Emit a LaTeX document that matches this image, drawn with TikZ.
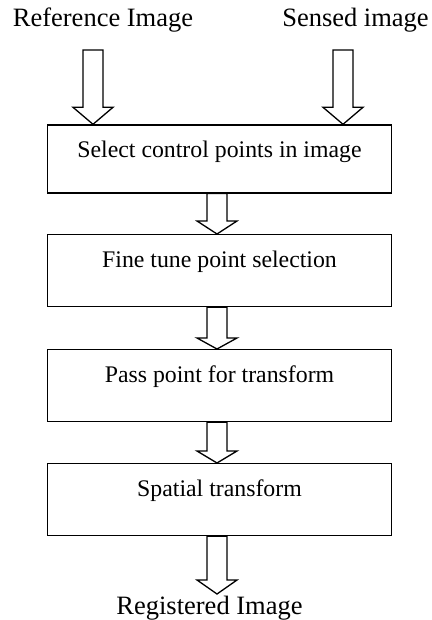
\documentclass[tikz,border=0pt]{standalone}
\usepackage{fontspec}
\setmainfont{Liberation Serif}
\usetikzlibrary{calc}
\begin{document}
\begin{tikzpicture}[x=1pt,y=1pt,
  stepbox/.style={draw, line width=1.3pt, minimum width=344pt, inner xsep=0pt, inner ysep=0pt,
    text height=33pt, text depth=39pt, anchor=north, font=\fontsize{23.8}{26}\selectfont},
  lbl/.style={anchor=base, inner sep=0pt, font=\fontsize{26.5}{30}\selectfont},
  fat/.style={draw, line width=1.3pt, line join=miter,
    to path={let \p1=(\tikztostart), \p2=(\tikztotarget) in
      (\x1-10pt,\y1) -- (\x1-10pt,\y2+#1) -- (\x1-20pt,\y2+#1) -- (\x2,\y2)
      -- (\x1+20pt,\y2+#1) -- (\x1+10pt,\y2+#1) -- (\x1+10pt,\y1) -- cycle}},
  fat/.default=13pt]
\path[use as bounding box] (0,0) rectangle (431,-620);
\node[lbl] (ref) at (103,-27) {Reference Image};
\node[lbl] (sen) at (355.5,-27) {Sensed image};
\node[stepbox, text depth=35pt] (b1) at (219.5,-124.3) {Select control points in image};
\node[stepbox] (b2) at (219.5,-234) {Fine tune point selection};
\node[stepbox] (b3) at (219.5,-349) {Pass point for transform};
\node[stepbox] (b4) at (219.5,-463) {Spatial transform};
\node[lbl] (reg) at (209.5,-614) {Registered Image};
\coordinate (r0) at (93,-50);
\coordinate (s0) at (343,-50);
\coordinate (mid) at (217,0);
\coordinate (fin) at (217,-594);
\draw[fat=17pt] (r0) to (r0 |- b1.north);
\draw[fat=17pt] (s0) to (s0 |- b1.north);
\draw[fat] (mid |- b1.south) to (mid |- b2.north);
\draw[fat=11pt] (mid |- b2.south) to (mid |- b3.north);
\draw[fat=12pt] (mid |- b3.south) to (mid |- b4.north);
\draw[fat=14pt] (mid |- b4.south) to (fin);
\end{tikzpicture}
\end{document}
